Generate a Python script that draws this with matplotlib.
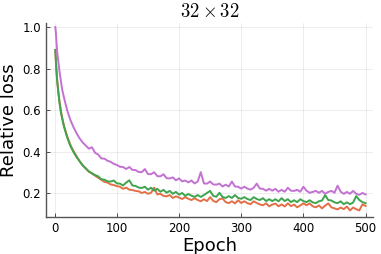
import matplotlib
matplotlib.use("Agg")
import matplotlib.pyplot as plt

epochs = [1, 2, 3, 4, 6, 8, 10, 12, 15] + list(range(20, 501, 5))

loss_orange = [
    0.89, 0.83, 0.785, 0.745, 0.685, 0.635, 0.595, 0.565, 0.525,
    0.475, 0.435, 0.405, 0.38, 0.355, 0.335, 0.32, 0.305, 0.295, 0.285, 0.275, 0.265, 0.255, 0.252, 0.243, 0.24, 0.235,
    0.232, 0.222, 0.228, 0.218, 0.216, 0.212, 0.21, 0.202, 0.207, 0.198, 0.203, 0.228, 0.195, 0.198, 0.188, 0.186, 0.192, 0.178, 0.186, 0.18,
    0.173, 0.182, 0.174, 0.168, 0.177, 0.168, 0.162, 0.172, 0.163, 0.182, 0.164, 0.158, 0.172, 0.176, 0.158, 0.153, 0.162, 0.152, 0.167, 0.154,
    0.162, 0.153, 0.148, 0.162, 0.154, 0.147, 0.143, 0.152, 0.138, 0.146, 0.151, 0.138, 0.147, 0.137, 0.152, 0.139, 0.146, 0.133, 0.142, 0.152,
    0.143, 0.152, 0.138, 0.133, 0.142, 0.128, 0.141, 0.152, 0.133, 0.128, 0.123, 0.132, 0.124, 0.137, 0.118, 0.132, 0.124, 0.118, 0.147, 0.14,
]
loss_green = [
    0.89, 0.83, 0.78, 0.74, 0.68, 0.63, 0.59, 0.56, 0.52,
    0.47, 0.43, 0.40, 0.375, 0.355, 0.335, 0.32, 0.305, 0.297, 0.288, 0.282, 0.268, 0.266, 0.258, 0.257, 0.262, 0.248,
    0.247, 0.238, 0.252, 0.263, 0.238, 0.236, 0.228, 0.226, 0.232, 0.218, 0.227, 0.213, 0.222, 0.208, 0.217, 0.203, 0.212, 0.198, 0.207, 0.194,
    0.202, 0.188, 0.197, 0.189, 0.183, 0.192, 0.183, 0.192, 0.202, 0.212, 0.188, 0.184, 0.203, 0.183, 0.178, 0.187, 0.178, 0.192, 0.178, 0.174,
    0.182, 0.173, 0.168, 0.182, 0.173, 0.168, 0.177, 0.163, 0.172, 0.163, 0.172, 0.162, 0.177, 0.163, 0.172, 0.158, 0.167, 0.158, 0.172, 0.163,
    0.158, 0.167, 0.157, 0.153, 0.162, 0.166, 0.192, 0.168, 0.166, 0.157, 0.153, 0.162, 0.148, 0.157, 0.148, 0.156, 0.187, 0.168, 0.158, 0.153,
]
loss_purple = [
    1.00, 0.97, 0.92, 0.88, 0.83, 0.78, 0.74, 0.70, 0.66,
    0.60, 0.555, 0.52, 0.49, 0.465, 0.445, 0.43, 0.415, 0.422, 0.395, 0.387, 0.368, 0.367, 0.357, 0.352, 0.342, 0.337,
    0.328, 0.327, 0.317, 0.327, 0.313, 0.312, 0.303, 0.302, 0.317, 0.293, 0.292, 0.302, 0.283, 0.282, 0.292, 0.273, 0.272, 0.277, 0.263, 0.272,
    0.258, 0.262, 0.253, 0.262, 0.248, 0.257, 0.302, 0.248, 0.247, 0.257, 0.243, 0.242, 0.247, 0.233, 0.242, 0.233, 0.257, 0.233, 0.232, 0.223,
    0.232, 0.223, 0.218, 0.227, 0.247, 0.223, 0.222, 0.213, 0.222, 0.213, 0.222, 0.208, 0.217, 0.208, 0.227, 0.213, 0.212, 0.217, 0.208, 0.232,
    0.213, 0.203, 0.207, 0.212, 0.203, 0.212, 0.198, 0.207, 0.212, 0.203, 0.237, 0.208, 0.198, 0.207, 0.198, 0.212, 0.198, 0.193, 0.202, 0.195,
]

x_ticks = [0, 100, 200, 300, 400, 500]
y_ticks = [0.2, 0.4, 0.6, 0.8, 1.0]

plt.rcParams['mathtext.fontset'] = 'cm'
plt.rcParams['font.family'] = 'DejaVu Sans'

fig = plt.figure(figsize=(3.81, 2.54), dpi=100)
ax = fig.add_axes([46 / 381, 1 - 217.3 / 254, (373 - 46) / 381, (217.3 - 22.5) / 254])

ax.plot(epochs, loss_orange, color='#E36F47', lw=1.4)
ax.plot(epochs, loss_green, color='#3EA44E', lw=1.4)
ax.plot(epochs, loss_purple, color='#C371D2', lw=1.4)

ax.set_xlim(-14, 512)
ax.set_ylim(0.085, 1.022)
ax.set_xticks(x_ticks)
ax.set_yticks(y_ticks)
ax.set_yticklabels(['0.2', '0.4', '0.6', '0.8', '1.0'])
ax.tick_params(direction='in', length=3, width=0.6, colors='#333333', labelsize=8.5, labelcolor='black')
ax.grid(True, color='black', alpha=0.1, lw=0.5)

for s in ['top', 'right']:
    ax.spines[s].set_visible(False)
for s in ['left', 'bottom']:
    ax.spines[s].set_color('#555555')
    ax.spines[s].set_linewidth(1.0)

ax.set_xlabel('Epoch', fontsize=13, labelpad=1)
ax.set_ylabel('Relative loss', fontsize=13, labelpad=3)
ax.set_title(r'$32 \times 32$', fontsize=13.5, pad=4)

fig.savefig('out.png', dpi=100)
